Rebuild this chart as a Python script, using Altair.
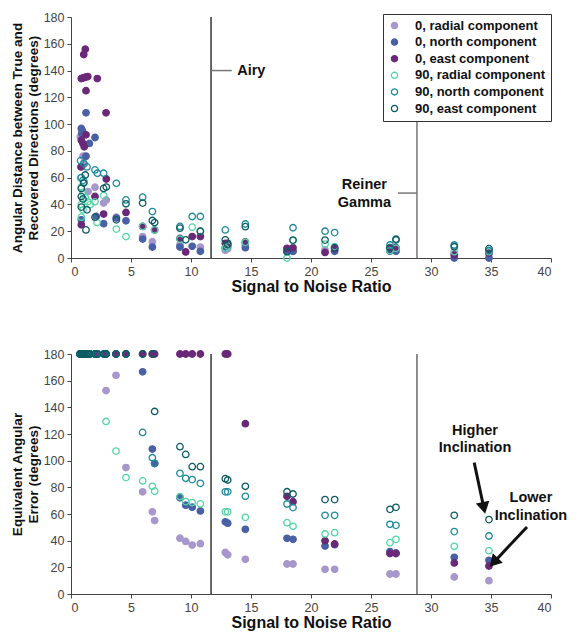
import altair as alt
import pandas as pd

FONT = "Liberation Sans"

series_names = [
    "0, radial component", "0, north component", "0, east component",
    "90, radial component", "90, north component", "90, east component",
]
stroke_colors = ["#a797cc", "#4a60a5", "#6a2978", "#52d6a5", "#1e8a9c", "#0e5a62"]
fill_colors = ["#a797cc", "#4a60a5", "#6a2978", "transparent", "transparent", "transparent"]

x_ticks = [0, 5, 10, 15, 20, 25, 30, 35, 40]
y_ticks = [0, 20, 40, 60, 80, 100, 120, 140, 160, 180]

# ---------------- top panel: angular distance (SNR, degrees) ----------------
top_r0_x = [0.78, 1.0, 1.1, 1.42, 2.0, 2.72, 2.94, 3.78, 5.97, 6.78, 9.08, 10.78, 12.86, 13.06, 14.53, 18.0, 18.5, 21.17, 21.97, 26.58, 27.08, 31.94, 34.83]
top_r0_y = [90.6, 76, 70, 49.6, 52.9, 41, 43.4, 30.5, 16, 12.2, 10, 8.2, 5.7, 7, 10, 5.5, 5, 6, 6, 6, 6, 3, 3]

top_n0_x = [1.25, 0.86, 0.95, 0.9, 2.0, 1.53, 1.25, 0.86, 2.72, 2.1, 3.78, 4.58, 5.97, 6.78, 9.08, 10.1, 10.78, 12.86, 13.06, 14.53, 18.0, 18.5, 21.97, 26.58, 27.08, 31.94, 34.83]
top_n0_y = [108.4, 96.8, 95, 93, 90, 85.6, 76, 28.5, 25.6, 31, 29.8, 27.8, 14.1, 8.2, 8.2, 8.7, 5, 7.7, 9, 7.7, 5, 5, 5, 5, 5, 0, 0]

top_e0_x = [1.19, 1.06, 0.86, 1.0, 1.19, 1.4, 2.19, 1.25, 2.92, 1.25, 0.86, 1.0, 1.1, 0.83, 2.94, 2.0, 2.72, 4.58, 0.86, 5.97, 6.97, 9.08, 9.56, 10.1, 10.78, 12.86, 13.06, 14.53, 18.0, 18.5, 21.17, 21.97, 26.58, 27.08, 31.94, 34.83]
top_e0_y = [156, 152, 134, 134.5, 135, 135.5, 134, 125, 108.4, 92, 88, 85.6, 83, 68, 59, 46, 32.8, 34, 24.8, 23.6, 21, 14.6, 4.5, 16, 16, 11, 11, 12, 7.2, 7.7, 4.2, 7, 7, 7.7, 2.2, 3.7]

top_r90_x = [0.86, 1.0, 1.19, 1.4, 1.6, 0.86, 1.0, 0.86, 1.1, 0.8, 2.0, 2.17, 2.72, 3.78, 4.58, 5.97, 6.97, 9.08, 10.1, 10.78, 12.86, 13.06, 14.53, 18.0, 18.5, 21.17, 21.97, 26.58, 27.08, 31.94, 34.83]
top_r90_y = [53, 49, 45, 42, 40, 40, 36, 30.5, 57, 60, 42, 26.5, 46.6, 21.6, 16, 23.6, 21, 14, 23, 20, 7.5, 9, 11.7, 0, 13, 10.4, 8.4, 5.5, 7.2, 4.7, 4.7]

top_n90_x = [0.8, 1.06, 1.33, 0.86, 1.0, 2.0, 2.2, 2.72, 3.78, 4.58, 5.97, 6.78, 9.08, 10.1, 10.78, 12.86, 14.53, 18.5, 21.17, 21.97, 26.58, 27.08, 31.94, 34.83]
top_n90_y = [72.7, 70.7, 68, 60, 58, 65.8, 63.3, 63.3, 55.8, 43.4, 45.4, 34.7, 23.6, 31, 31, 21, 25.4, 22.6, 20, 19, 9.7, 13.4, 9.7, 5.5]

top_e90_x = [0.86, 1.06, 1.19, 0.86, 1.0, 1.33, 1.25, 0.86, 2.72, 2.94, 2.0, 3.78, 4.58, 5.97, 6.78, 6.97, 9.08, 9.56, 10.78, 12.86, 13.06, 14.53, 18.0, 18.5, 21.17, 21.97, 26.58, 27.08, 31.94, 34.83]
top_e90_y = [52, 56, 62, 46, 44, 36, 21, 38, 52, 53, 30.5, 28.5, 40.5, 41, 28, 26.5, 22.3, 13.6, 20, 13.6, 10, 23.4, 4.7, 13.4, 13.4, 7.7, 7.7, 14, 8.4, 7]

top_xs = [top_r0_x, top_n0_x, top_e0_x, top_r90_x, top_n90_x, top_e90_x]
top_ys = [top_r0_y, top_n0_y, top_e0_y, top_r90_y, top_n90_y, top_e90_y]

# ---------------- bottom panel: equivalent angular error ----------------
bot_snr = [0.75, 0.85, 0.95, 1.05, 1.15, 1.25, 1.4, 1.55, 2.0, 2.2, 2.75,
           2.92, 3.75, 4.58, 5.97, 6.78, 6.97, 9.08, 9.56, 10.1, 10.78, 12.86, 13.06,
           14.53, 18.0, 18.5, 21.17, 21.97, 26.58, 27.08, 31.94, 34.83]
bot_r0 = [180] * 11 + [152.6, 164, 94.8, 76.6, 61.6, 55.1, 41.9, 39.4, 36.7, 37.7, 31.2, 29.4, 26, 22.5, 22.5, 18.5, 18.5, 15, 15, 12.8, 10]
bot_n0 = [180] * 11 + [180, 180, 180, 166.6, 108.7, 97.8, 72.1, 66.6, 65.1, 62.3, 54.1, 53.1, 48.5, 41.8, 41, 36, 37, 31.8, 30.8, 27.5, 25.3]
bot_e0 = [180] * 11 + [180, 180, 180, 180, 180, 180, 180, 180, 180, 180, 180, 180, 127.7, 73.3, 69.2, 40, 37.5, 30.3, 30.3, 23.3, 21]
bot_r90 = [180] * 11 + [129.4, 107.2, 87.3, 84.8, 80.8, 77.1, 73.1, 69.3, 68.6, 67.6, 61.6, 61.6, 57.5, 53.5, 50.8, 45, 46, 38.5, 41, 35.8, 32.5]
bot_n90 = [180] * 11 + [180, 180, 180, 121.2, 102.2, 98, 90.5, 86.8, 85.8, 83, 76.6, 76.6, 73.3, 67.5, 64.8, 59, 59, 52.3, 51.5, 46.8, 43.5]
bot_e90 = [180] * 11 + [180, 180, 180, 180, 180, 136.9, 110.5, 104.7, 95.5, 95.5, 86.5, 85.5, 80.8, 76.7, 75, 70.8, 70.8, 63.5, 65, 59, 55.8]
bot_vals = [bot_r0, bot_n0, bot_e0, bot_r90, bot_n90, bot_e90]

# ---------------- annotations ----------------
airy_snr = [11.67]
reiner_snr = [28.83]

X_TITLE = "Signal to Noise Ratio"
TOP_Y_TITLE = ["Angular Distance between True and", "Recovered Directions (degrees)"]
BOT_Y_TITLE = ["Equivalent Angular", "Error (degrees)"]

rows = []
for name, xs, ys in zip(series_names, top_xs, top_ys):
    for a, b in zip(xs, ys):
        rows.append({"series": name, "snr": a, "deg": b})
top_df = pd.DataFrame(rows)

rows = []
for name, vals in zip(series_names, bot_vals):
    for a, b in zip(bot_snr, vals):
        rows.append({"series": name, "snr": a, "deg": b})
bot_df = pd.DataFrame(rows)

W, H1, H2 = 480, 241, 240


class Panel:
    def __init__(self, ytitle):
        self.ytitle = ytitle

    def X(self, field):
        return alt.X(field, title=X_TITLE, scale=alt.Scale(domain=[0, 40], nice=False),
                     axis=alt.Axis(values=x_ticks, labelOverlap=False))

    def Y(self, field):
        return alt.Y(field, title=self.ytitle, scale=alt.Scale(domain=[0, 180], nice=False),
                     axis=alt.Axis(values=y_ticks, labelOverlap=False))

    def points(self, df, legend):
        fill_scale = alt.Scale(domain=series_names, range=fill_colors)
        stroke_scale = alt.Scale(domain=series_names, range=stroke_colors)
        lg = alt.Legend(title=None, orient="none", legendX=312, legendY=-3,
                        padding=5, strokeColor="#333", fillColor="white",
                        labelFont=FONT, labelFontWeight="bold", labelFontSize=13,
                        labelColor="#111", symbolSize=38, symbolStrokeWidth=1.3,
                        labelOffset=14, rowPadding=2.6, labelLimit=300,
                        symbolType="circle") if legend else None
        return alt.Chart(df).mark_point(size=42, strokeWidth=1.3, opacity=1, fillOpacity=1).encode(
            x=self.X("snr:Q"),
            y=self.Y("deg:Q"),
            fill=alt.Fill("series:N", scale=fill_scale, legend=lg, sort=series_names),
            stroke=alt.Stroke("series:N", scale=stroke_scale, legend=lg, sort=series_names),
            order=alt.Order("ord:Q"),
        ).transform_calculate(
            ord="indexof(" + str(series_names) + ", datum.series)"
        )

    def vline(self, xs, color, y0=None, y1=None):
        df = pd.DataFrame({"snr": xs})
        enc = dict(x=self.X("snr:Q"))
        if y0 is not None:
            df["y0"] = y0
            df["y1"] = y1
            enc["y"] = self.Y("y0:Q")
            enc["y2"] = alt.Y2("y1:Q")
        return alt.Chart(df).mark_rule(color=color, strokeWidth=1.2).encode(**enc)

    def hline(self, x0, x1, y, color="#777"):
        df = pd.DataFrame({"a": [x0], "b": [x1], "y": [y]})
        return alt.Chart(df).mark_rule(color=color, strokeWidth=1.5).encode(
            x=self.X("a:Q"), x2="b:Q", y=self.Y("y:Q"))

    def label(self, lines, x, y, align="left", size=14.5):
        df = pd.DataFrame({"x": [x], "y": [y], "t": [lines]})
        return alt.Chart(df).mark_text(font=FONT, fontWeight="bold", fontSize=size,
                                       align=align, baseline="middle", lineHeight=17.5,
                                       color="#111").encode(x=self.X("x:Q"), y=self.Y("y:Q"), text="t")

    def arrow(self, x0, y0, x1, y1, angle):
        df = pd.DataFrame({"a": [x0], "ay": [y0], "b": [x1], "by": [y1]})
        line = alt.Chart(df).mark_rule(color="#111", strokeWidth=3).encode(
            x=self.X("a:Q"), y=self.Y("ay:Q"), x2="b:Q", y2="by:Q")
        head = alt.Chart(df).mark_point(shape="triangle", size=190, filled=True,
                                        color="#111", opacity=1, angle=angle).encode(
            x=self.X("b:Q"), y=self.Y("by:Q"))
        return line + head


P1 = Panel(TOP_Y_TITLE)
P2 = Panel(BOT_Y_TITLE)

top = alt.layer(
    P1.points(top_df, True),
    P1.vline(airy_snr, "#000"),
    P1.vline(reiner_snr, "#555", [0], [102.5]),
    P1.hline(11.67, 13.4, 140),
    P1.label("Airy", 13.85, 140),
    P1.hline(27.25, 28.83, 48.5),
    P1.label(["Reiner", "Gamma"], 24.45, 54.5, align="center"),
).properties(width=W, height=H1)

bottom = alt.layer(
    P2.points(bot_df, False),
    P2.vline(airy_snr, "#000"),
    P2.vline(reiner_snr, "#444"),
    P2.label(["Higher", "Inclination"], 33.67, 122.3, align="center"),
    P2.arrow(33.6, 98.5, 34.37, 66, 167.6),
    P2.label(["Lower", "Inclination"], 38.33, 72, align="center"),
    P2.arrow(38.0, 50.3, 35.34, 24.8, 223.5),
).properties(width=W, height=H2)

chart = alt.vconcat(top, bottom, spacing=53).resolve_scale(
    fill="shared", stroke="shared"
).configure_view(stroke=None).configure_axis(
    grid=False, domainColor="#444", tickColor="#444", tickSize=4,
    labelFont=FONT, labelFontSize=12.5, labelColor="#444", labelPadding=3,
    titleFont=FONT, titleFontWeight="bold", titleColor="#111",
).configure_axisX(
    titleFontSize=16, titlePadding=1,
).configure_axisY(
    titleFontSize=13.6, titlePadding=3, titleLineHeight=16,
).properties(padding={"left": 10, "top": 11, "right": 5, "bottom": 5})

chart.save("out.html", embed_options={"renderer": "svg", "actions": False})
